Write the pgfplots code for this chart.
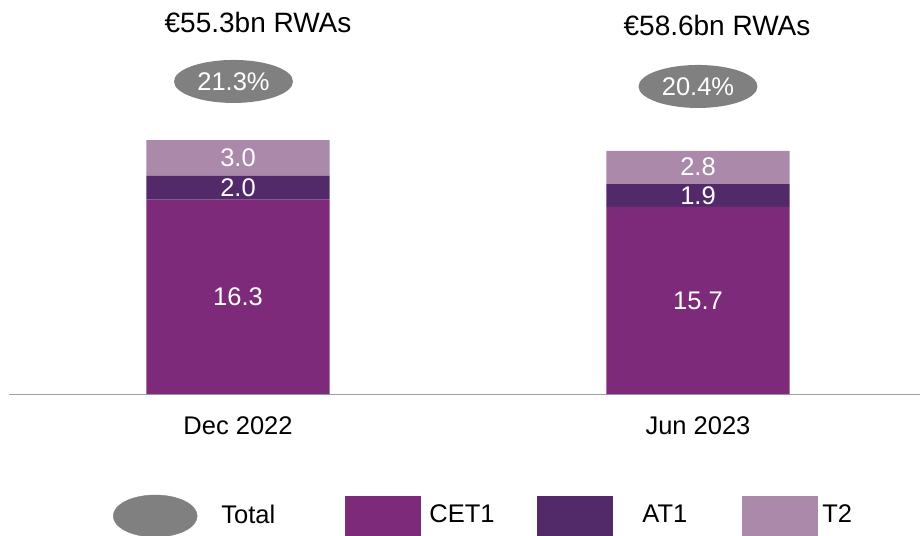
\documentclass[border=0pt]{standalone}
\usepackage{pgfplots}
\pgfplotsset{compat=1.18}
\usepackage{fontspec}
\setmainfont{Liberation Sans}
\usetikzlibrary{shapes.geometric}
\definecolor{cetone}{RGB}{126,42,122}
\definecolor{atone}{RGB}{82,42,106}
\definecolor{ttwo}{RGB}{171,137,171}
\definecolor{totgray}{RGB}{128,128,128}
\definecolor{linegray}{RGB}{160,160,160}
\begin{document}
\fontsize{25.5bp}{30bp}\selectfont
\begin{tikzpicture}
\path[use as bounding box] (0,0) rectangle (920bp,536bp);
\pgfplotsset{base/.style={at={(9bp,142bp)}, anchor=south west, width=911bp, height=394bp,
  scale only axis, xmin=-0.49783, xmax=1.48261, ymin=0, ymax=33.054, clip=false}}
\begin{axis}[base, ybar stacked, bar width=0.398,
  axis x line=bottom, hide y axis,
  axis line style={draw=linegray, line width=1bp, -},
  xtick={0,1}, xticklabels={Dec 2022, Jun 2023}, major tick length=0pt,
  xticklabel style={anchor=north, inner sep=0pt, yshift=-22bp, font=\fontsize{25.5bp}{30bp}\selectfont},
  legend style={draw=none, fill=none, inner sep=0pt, outer sep=0pt,
    at={(0.11416,-0.30964)}, anchor=west, legend columns=4,
    column sep=0pt, row sep=0pt, nodes={inner sep=0pt},
    font=\fontsize{25.5bp}{30bp}\selectfont},
  legend cell align=left]
\addlegendimage{legend image code/.code={\fill[totgray] (42bp,0bp) ellipse [x radius=42bp, y radius=21bp];}}
\addlegendentry{\makebox[148bp][l]{\hspace{24bp}Total}}
\addplot[fill=cetone, draw=none, legend image code/.code={\fill[cetone] (0bp,-20bp) rectangle (76bp,20bp);}]
  coordinates {(0,16.3) (1,15.7)};
\addlegendentry{\makebox[116bp][l]{\hspace{8bp}CET1}}
\addplot[fill=atone, draw=none, legend image code/.code={\fill[atone] (0bp,-20bp) rectangle (76bp,20bp);}]
  coordinates {(0,2.0) (1,1.9)};
\addlegendentry{\makebox[129bp][l]{\hspace{29bp}AT1}}
\addplot[fill=ttwo, draw=none, legend image code/.code={\fill[ttwo] (0bp,-20bp) rectangle (76bp,20bp);}]
  coordinates {(0,3.0) (1,2.8)};
\addlegendentry{\hspace{4bp}T2}
\end{axis}
\begin{axis}[base, hide axis]
\addplot[draw=none, nodes near coords, point meta=explicit symbolic,
  every node near coord/.style={anchor=center, text=white, inner sep=0pt, font=\fontsize{25.5bp}{30bp}\selectfont}]
  coordinates {(0,8.15)[16.3] (1,7.85)[15.7] (0,17.3)[2.0] (1,16.65)[1.9] (0,19.8)[3.0] (1,19.05)[2.8]};
\addplot[draw=none, nodes near coords, point meta=explicit symbolic,
  every node near coord/.style={ellipse, fill=totgray, text=white, minimum width=119bp, minimum height=43bp, inner sep=0pt, anchor=center, font=\fontsize{25.5bp}{30bp}\selectfont}]
  coordinates {(-0.0098,26.22)[21.3\%] (1,25.80)[20.4\%]};
\addplot[draw=none, nodes near coords, point meta=explicit symbolic,
  every node near coord/.style={anchor=center, text=black, inner sep=0pt, font=\fontsize{28bp}{32bp}\selectfont}]
  coordinates {(0.0435,31.17)[€55.3bn RWAs] (1.0413,30.91)[€58.6bn RWAs]};
\end{axis}
\end{tikzpicture}
\end{document}
